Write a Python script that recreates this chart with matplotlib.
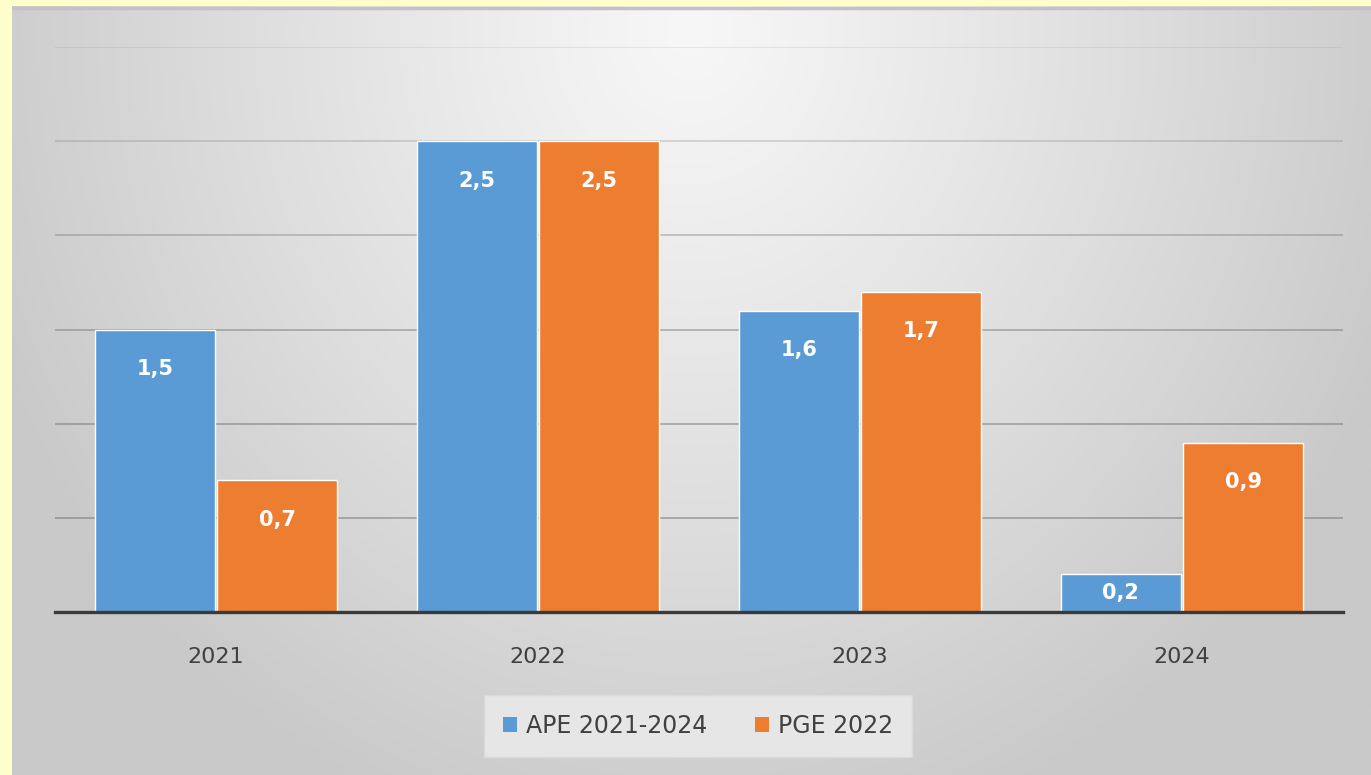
import numpy as np
import matplotlib
matplotlib.use("Agg")
import matplotlib.pyplot as plt
from matplotlib.patches import Patch

# Chart data
years = ["2021", "2022", "2023", "2024"]
ape_values = [1.5, 2.5, 1.6, 0.2]
pge_values = [0.7, 2.5, 1.7, 0.9]
series_names = ["APE 2021-2024", "PGE 2022"]
value_labels_ape = ["1,5", "2,5", "1,6", "0,2"]
value_labels_pge = ["0,7", "2,5", "1,7", "0,9"]

blue = "#5B9BD5"
orange = "#ED7D31"
text_gray = "#404040"

W, H = 1371, 775
fig = plt.figure(figsize=(W / 100, H / 100), dpi=100)
fig.patch.set_facecolor("#FFFFCC")

# Gray radial background of the chart area (yellow strip on left/top)
bg = fig.add_axes([12 / W, 0, 1 - 12 / W, 1 - 6 / H])
bg.set_axis_off()
xx, yy = np.meshgrid(np.linspace(12, W, 400), np.linspace(6, H, 250))
r = np.sqrt(((xx - 690) / 760) ** 2 + ((yy - 30) / 850) ** 2)
r = np.clip(r, 0, 1)
shade = (247 - 46 * r ** 1.1) / 255
img = np.dstack([shade, shade, shade])
bg.imshow(img, aspect="auto", extent=[0, 1, 0, 1], interpolation="bilinear")
bg.axhline(0.997, color="#c2c2c2", lw=2.5)
bg.set_xlim(0, 1)
bg.set_ylim(0, 1)

# Main plot axes
ax = fig.add_axes([55 / W, (H - 612) / H, (1343 - 55) / W, (612 - 47) / H])
ax.patch.set_alpha(0)
x = np.arange(len(years))
width = 0.373
offset = 0.19

# Gridlines, fading toward the lighter top
for val, a in zip([0.5, 1.0, 1.5, 2.0, 2.5, 3.0], [0.55, 0.55, 0.5, 0.4, 0.28, 0.15]):
    ax.axhline(val, color="#6e6e6e", lw=1.2, alpha=a, zorder=1)

ax.bar(x - offset, ape_values, width, color=blue, edgecolor="white",
       linewidth=1.0, zorder=2)
ax.bar(x + offset, pge_values, width, color=orange, edgecolor="white",
       linewidth=1.0, zorder=2)

# Data labels inside the bar tops
for xi, v, lab in zip(x - offset, ape_values, value_labels_ape):
    ax.text(xi, max(v - 0.21, v / 2), lab, ha="center", va="center",
            color="white", fontsize=15, fontweight="bold", zorder=3)
for xi, v, lab in zip(x + offset, pge_values, value_labels_pge):
    ax.text(xi, max(v - 0.21, v / 2), lab, ha="center", va="center",
            color="white", fontsize=15, fontweight="bold", zorder=3)

ax.axhline(0, color="#3a3a3a", lw=2.4, zorder=4, clip_on=False)
ax.set_xlim(-0.5, len(years) - 0.5)
ax.set_ylim(0, 3)
ax.set_yticks([])
ax.set_xticks(x)
ax.set_xticklabels(years, fontsize=16, color=text_gray)
ax.tick_params(axis="x", length=0, pad=25)
for s in ax.spines.values():
    s.set_visible(False)

# Legend
handles = [Patch(facecolor=blue, edgecolor="none"),
           Patch(facecolor=orange, edgecolor="none")]
leg = fig.legend(handles, series_names, loc="center",
                 bbox_to_anchor=(698 / W, (H - 726) / H), ncol=2,
                 fontsize=17, frameon=True, handlelength=0.6,
                 handleheight=0.6, handletextpad=0.4, columnspacing=2.0,
                 borderpad=0.5, borderaxespad=0)
leg.get_frame().set_facecolor("#e6e6e6")
leg.get_frame().set_edgecolor("#dadada")
leg.get_frame().set_boxstyle("square")
leg.get_frame().set_alpha(1)
for t in leg.get_texts():
    t.set_color(text_gray)

fig.savefig("out.png", dpi=100)
